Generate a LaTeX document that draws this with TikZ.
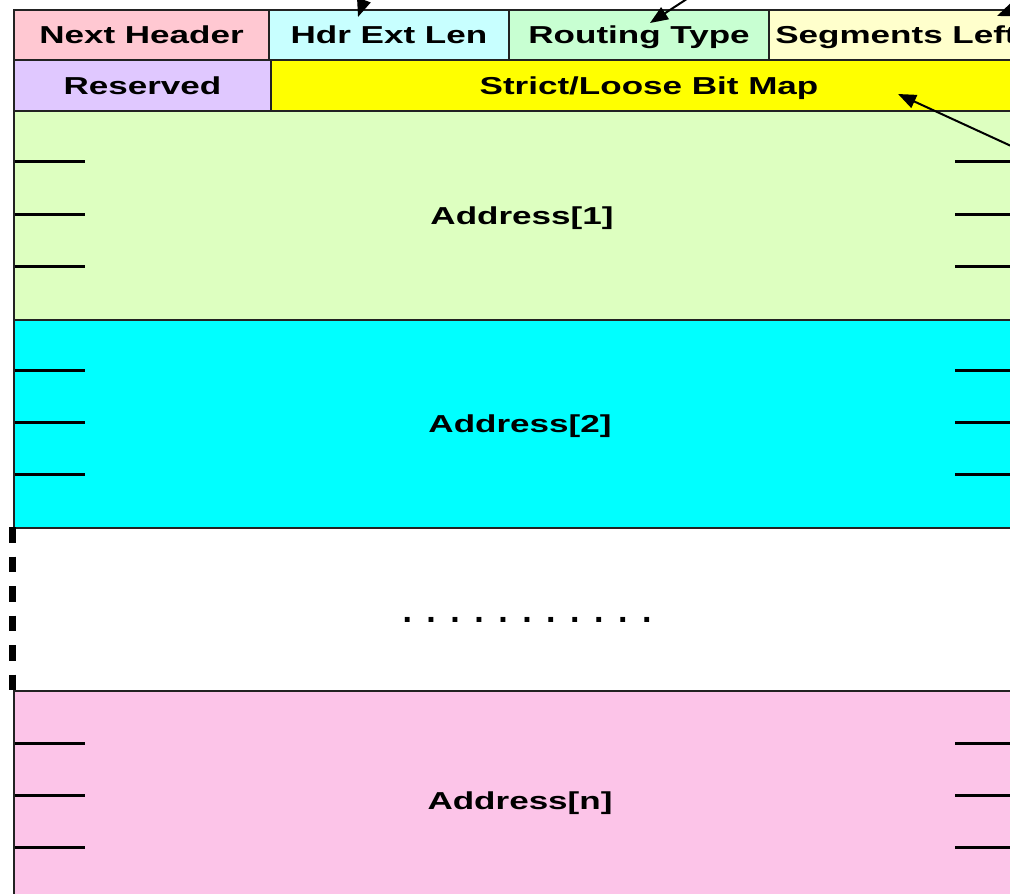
\documentclass[tikz,border=0pt]{standalone}
\usepackage{fontspec}
\setmainfont{Liberation Sans}
\usetikzlibrary{arrows.meta}
\definecolor{cNH}{HTML}{FFC8D2}
\definecolor{cHL}{HTML}{C8FFFF}
\definecolor{cRT}{HTML}{C8FFD2}
\definecolor{cSL}{HTML}{FFFFCC}
\definecolor{cRS}{HTML}{E0C8FF}
\definecolor{cBM}{HTML}{FFFF00}
\definecolor{cA1}{HTML}{DDFFC0}
\definecolor{cA2}{HTML}{00FFFF}
\definecolor{cAN}{HTML}{FCC4E8}
\definecolor{bord}{HTML}{222222}
\newcommand{\wt}[1]{\scalebox{1.43}[1]{#1}}
\begin{document}
\begin{tikzpicture}[x=1pt,y=-1pt,
  cell/.style={draw=bord, line width=2pt, anchor=north west, inner sep=0pt,
    font=\fontsize{24.5}{28}\selectfont\bfseries, text=black,
    text height=17.5pt, text depth=0pt},
  tick/.style={line width=3pt, black},
  arr/.style={line width=2pt, black, -{Triangle[length=18pt,width=14pt]}},
  dashline/.style={line width=7pt, black, dash pattern=on 15.5pt off 14pt}]
\clip (0,0) rectangle (1010,894);
\fill[white] (0,0) rectangle (1010,894);
% row 1
\node[cell, fill=cNH, minimum width=255pt, minimum height=50pt] (nh) at (13,9) {\wt{Next Header}};
\node[cell, fill=cHL, minimum width=240pt, minimum height=50pt] (hl) at (268,9) {\wt{Hdr Ext Len}};
\node[cell, fill=cRT, minimum width=260pt, minimum height=50pt] (rt) at (508,9) {\wt{Routing Type}};
\node[cell, fill=cSL, minimum width=254pt, minimum height=50pt] (sl) at (768,9) {\wt{Segments Left}};
% row 2
\node[cell, fill=cRS, minimum width=257pt, minimum height=51pt] (rs) at (13,59) {\wt{Reserved}};
\node[cell, fill=cBM, minimum width=756pt, minimum height=51pt] (bm) at (270,59) {\wt{Strict/Loose Bit Map}};
% addresses
\node[cell, fill=cA1, minimum width=1016pt, minimum height=209pt] (a1) at (13,110) {\wt{Address[1]}};
\node[cell, fill=cA2, minimum width=1012pt, minimum height=208pt] (a2) at (13,319) {\wt{Address[2]}};
\node[cell, fill=cAN, minimum width=1012pt, minimum height=220pt] (an) at (13,690) {\wt{Address[n]}};
% gap with dots
\node[anchor=base, inner sep=0pt, font=\fontsize{34}{36}\selectfont\bfseries] (dots) at (527,622)
  {.\hspace{14.5pt}.\hspace{14.5pt}.\hspace{14.5pt}.\hspace{14.5pt}.\hspace{14.5pt}.\hspace{14.5pt}.\hspace{14.5pt}.\hspace{14.5pt}.\hspace{14.5pt}.\hspace{14.5pt}.};
\coordinate (dtop) at (12,527);
\coordinate (dbot) at (12,693);
\draw[dashline] (dtop) -- (dbot);
% ticks
\foreach \y in {161,214,266,370,422,474,743,795,847}{
  \draw[tick] (15,\y) -- (85,\y);
  \draw[tick] (955,\y) -- (1012,\y);
}
% arrows
\coordinate (s1) at (366,-6);
\coordinate (t1) at (358,17);
\coordinate (s2) at (696,-7);
\coordinate (t2) at (650,23);
\coordinate (s3) at (1030,3);
\coordinate (t3) at (997,16);
\coordinate (s4) at (1022,151);
\coordinate (t4) at (898,94);
\draw[arr] (s1) -- (t1);
\draw[arr] (s2) -- (t2);
\draw[arr] (s3) -- (t3);
\draw[arr] (s4) -- (t4);
\end{tikzpicture}
\end{document}
